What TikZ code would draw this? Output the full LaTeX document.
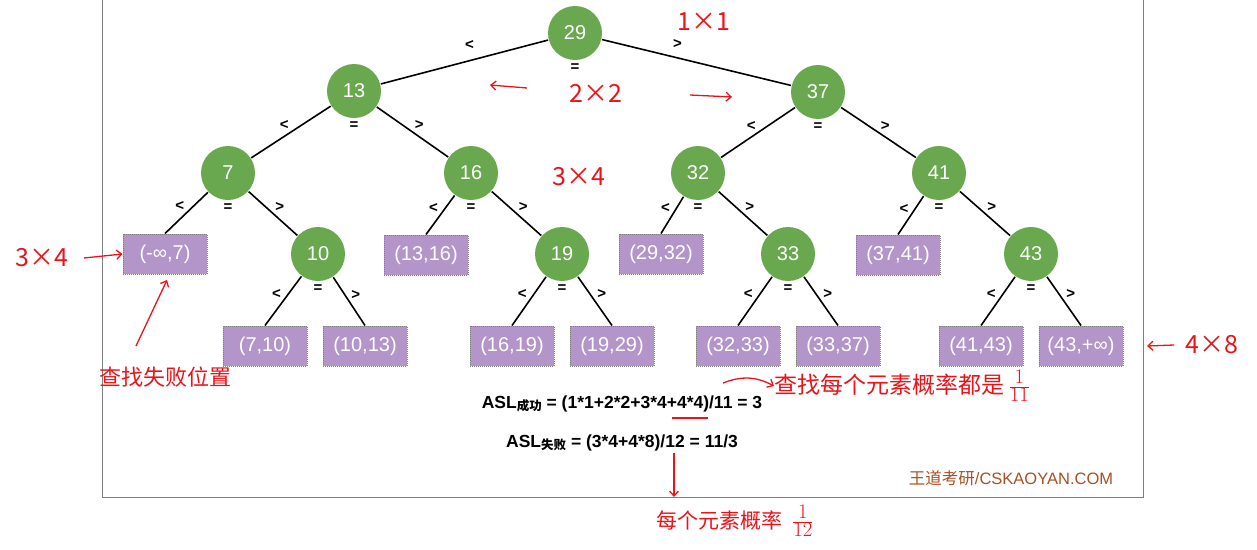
\documentclass[tikz,border=0pt]{standalone}
\usepackage{fontspec}
\setmainfont{Liberation Sans}
\newfontfamily\cjk{Noto Sans CJK SC}
\usetikzlibrary{arrows.meta}
\definecolor{ndgreen}{HTML}{6AA84F}
\definecolor{lfpurple}{HTML}{B395C9}
\definecolor{wmbrown}{HTML}{A84F24}
\definecolor{hwred}{HTML}{E8141A}

\begin{document}
\begin{tikzpicture}[x=1pt, y=-1pt, line width=1.6pt]
\tikzstyle{nd}=[circle,fill=ndgreen,text=white,minimum size=54pt,inner sep=0pt,font=\fontsize{20}{20}\selectfont]
\tikzstyle{lf}=[rectangle,fill=lfpurple,draw=gray,densely dotted,line width=1pt,text=white,minimum width=84pt,minimum height=40pt,inner sep=0pt,font=\fontsize{20}{20}\selectfont]
\tikzstyle{sg}=[text=black,inner sep=1.5pt,font=\bfseries\fontsize{15}{15}\selectfont]
\tikzstyle{lt}=[sg,midway,above left]
\tikzstyle{gt}=[sg,midway,above right]
\tikzstyle{eq}=[sg,label distance=1pt]
\tikzstyle{hw}=[text=hwred,inner sep=0pt,font=\cjk\fontsize{25}{25}\selectfont]
\tikzstyle{hwarr}=[draw=hwred,line width=1.3pt,-{Straight Barb[length=5pt,width=9pt]}]
\useasboundingbox (0,0) rectangle (1257,549);

% frame
\draw[gray, line width=0.8pt] (102,0) -- (102,497) -- (1143,497) -- (1143,0);

% inner nodes
\node[nd, label={[eq]below:=}] (n29) at (575,33)  {29};
\node[nd, label={[eq]below:=}] (n13) at (354,91)  {13};
\node[nd, label={[eq]below:=}] (n37) at (818,92)  {37};
\node[nd, label={[eq]below:=}] (n7)  at (228,173) {7};
\node[nd, label={[eq]below:=}] (n16) at (471,173) {16};
\node[nd, label={[eq]below:=}] (n32) at (698,173) {32};
\node[nd, label={[eq]below:=}] (n41) at (939,173) {41};
\node[nd, label={[eq]below:=}] (n10) at (318,254) {10};
\node[nd, label={[eq]below:=}] (n19) at (562,254) {19};
\node[nd, label={[eq]below:=}] (n33) at (788,254) {33};
\node[nd, label={[eq]below:=}] (n43) at (1031,254) {43};

% failure intervals
\node[lf] (r7)  at (165,254)  {(-∞,7)};
\node[lf] (r16) at (426,255)  {(13,16)};
\node[lf] (r32) at (661,254)  {(29,32)};
\node[lf] (r41) at (898,255)  {(37,41)};
\node[lf] (r10) at (265,346)  {(7,10)};
\node[lf] (r13) at (365,346)  {(10,13)};
\node[lf] (r19) at (512,346)  {(16,19)};
\node[lf] (r29) at (612,346)  {(19,29)};
\node[lf] (r33) at (738,346)  {(32,33)};
\node[lf] (r37) at (838,346)  {(33,37)};
\node[lf] (r43) at (981,346)  {(41,43)};
\node[lf] (rinf) at (1081,346) {(43,+∞)};

\path
(n29) edge node[lt, pos=0.47, above=9pt] {<} (n13)
      edge node[gt, pos=0.40, above=7pt] {>} (n37)
(n13) edge node[lt] {<} (n7)
      edge node[gt] {>} (n16)
(n37) edge node[lt] {<} (n32)
      edge node[gt] {>} (n41)
(n7)  edge node[lt] {<} (r7.north)
      edge node[gt] {>} (n10)
(n16) edge node[lt] {<} (r16.north)
      edge node[gt] {>} (n19)
(n32) edge node[lt] {<} (r32.north)
      edge node[gt] {>} (n33)
(n41) edge node[lt] {<} (r41.north)
      edge node[gt] {>} (n43)
(n10) edge node[lt] {<} (r10.north)
      edge node[gt] {>} (r13.north)
(n19) edge node[lt] {<} (r19.north)
      edge node[gt] {>} (r29.north)
(n33) edge node[lt] {<} (r33.north)
      edge node[gt] {>} (r37.north)
(n43) edge node[lt] {<} (r43.north)
      edge node[gt] {>} (rinf.north);

% formulas
\node[font=\bfseries\fontsize{17.5}{17.5}\selectfont] (asl1) at (622,404)
  {ASL\raisebox{-2.5pt}{\cjk\fontsize{12.5}{12.5}\selectfont 成功} = (1*1+2*2+3*4+4*4)/11 = 3};
\node[font=\bfseries\fontsize{17.5}{17.5}\selectfont] (asl2) at (622,443)
  {ASL\raisebox{-2.5pt}{\cjk\fontsize{12.5}{12.5}\selectfont 失败} = (3*4+4*8)/12 = 11/3};
\node[text=wmbrown, font=\fontsize{16.5}{16.5}\selectfont] (wm) at (1011,478)
  {{\cjk 王道考研}/CSKAOYAN.COM};

% handwritten notes
\node[hw] (hw11)  at (704,22)  {1×1};
\node[hw] (hw22)  at (596,93)  {2×2};
\node[hw] (hw34m) at (579,177) {3×4};
\node[hw] (hw34l) at (42,258)  {3×4};
\node[hw] (hw48)  at (1212,345) {4×8};
\node[hw, font=\cjk\fontsize{22}{22}\selectfont] (hwfail) at (165,377) {查找失败位置};
\node[hw, font=\cjk\fontsize{23}{23}\selectfont, anchor=west] (hwsucc) at (774,386) {查找每个元素概率都是\,{\fontsize{30}{30}\selectfont$\frac{1}{11}$}};
\node[hw, font=\cjk\fontsize{21}{21}\selectfont, anchor=west] (hwfp) at (656,521) {每个元素概率\ \ {\fontsize{28}{28}\selectfont$\frac{1}{12}$}};

\coordinate (c2l) at (527,88);
\coordinate (c2le) at (490,85);
\coordinate (c2r) at (690,95);
\coordinate (c2re) at (732,97);
\coordinate (cl) at (84,258);
\coordinate (cr) at (1174,345);
\coordinate (cfail) at (136,346);
\coordinate (cfaile) at (167,280);
\coordinate (cs) at (723,383);
\coordinate (cd) at (674,453);
\coordinate (cde) at (674,497);
\coordinate (cu1) at (672,418);
\coordinate (cu2) at (708,418);

\draw[hwarr] (c2l) -- (c2le);
\draw[hwarr] (c2r) -- (c2re);
\draw[hwarr] (cl) -- (r7.west);
\draw[hwarr] (cr) -- (rinf.east -| 1147,0);
\draw[hwarr] (cfail) -- (cfaile);
\draw[hwarr] (cs) to[bend left=25] (hwsucc.west);
\draw[hwarr] (cd) -- (cde);
\draw[draw=hwred, line width=1.3pt] (cu1) -- (cu2);
\end{tikzpicture}
\end{document}
